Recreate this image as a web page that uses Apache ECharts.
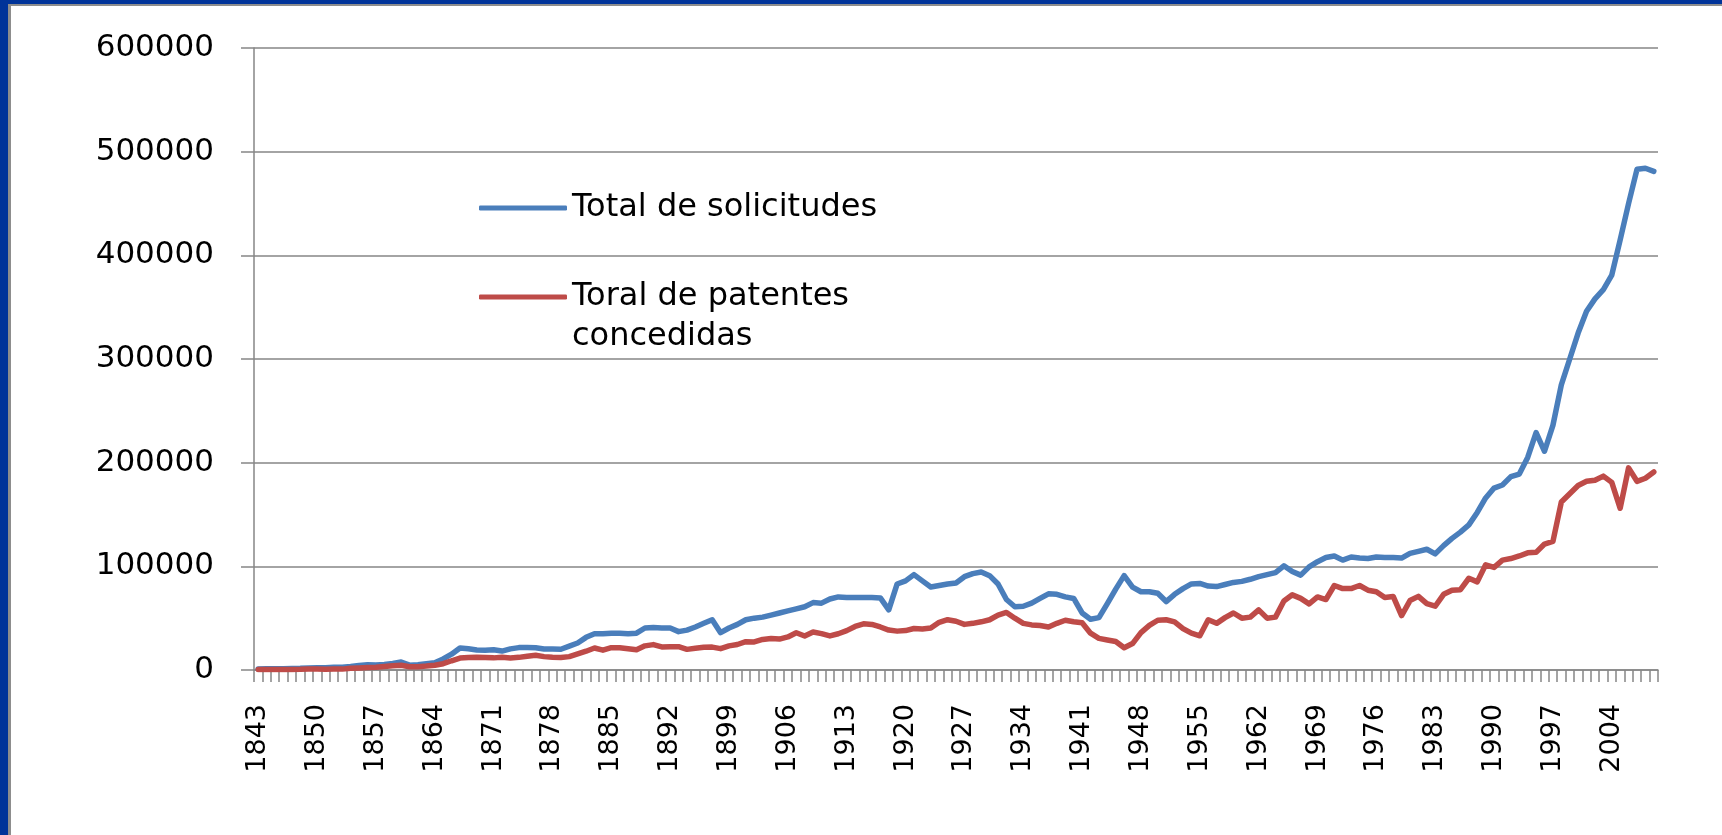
<!DOCTYPE html>
<html>
<head>
<meta charset="utf-8">
<title>Solicitudes y patentes concedidas</title>
<script src="https://cdn.jsdelivr.net/npm/echarts@6/dist/echarts.min.js"></script>
<style>
    html, body {
        margin: 0;
        padding: 0;
        width: 1722px;
        height: 835px;
        overflow: hidden;
        background: #003399;
    }
    #frame {
        position: absolute;
        left: 8px;
        top: 4px;
        width: 1714px;
        height: 831px;
        box-sizing: border-box;
        border-left: 3px solid #8d8d8d;
        border-top: 2px solid #8d8d8d;
        background: #fff;
    }
    #chart {
        width: 1711px;
        height: 829px;
    }
</style>
</head>
<body>
<div id="frame"><div id="chart"></div></div>
<script>
// años 1843 - 2009
var firstYear = 1843;
var lastYear = 2009;
var years = [];
for (var y = firstYear; y <= lastYear; y++) {
    years.push(String(y));
}

// Total de solicitudes
var solicitudes = [
    1000, 1100, 1250, 1300, 1550, 1650, 1950, 2200, 2250, 2650,      // 1843-1852
    2700, 3300, 4450, 4950, 4800, 5350, 6250, 7650, 4650, 5050,      // 1853-1862
    6000, 6950, 10650, 15250, 21250, 20450, 19250, 19150, 19450, 18250, // 1863-1872
    20400, 21600, 21650, 21400, 20300, 20250, 20050, 23000, 26050, 31500, // 1873-1882
    35000, 35000, 35500, 35500, 35000, 35500, 40500, 41000, 40500, 40500, // 1883-1892
    37000, 38500, 41500, 45000, 48500, 36000, 40500, 44000, 48500, 50000, // 1893-1902
    51000, 53000, 55000, 57000, 59000, 61000, 65000, 64500, 68500, 70500, // 1903-1912
    70000, 70000, 70000, 70000, 69500, 58000, 83000, 86000, 92000, 86000, // 1913-1922
    80000, 81500, 83000, 84000, 90000, 93000, 94500, 91000, 83000, 68000, // 1923-1932
    61000, 61500, 64500, 69000, 73500, 73000, 70500, 69000, 55000, 49000, // 1933-1942
    50500, 64000, 78000, 91000, 80000, 75500, 75500, 74000, 66000, 73000, // 1943-1952
    78500, 83000, 83500, 81000, 80500, 82500, 84500, 85500, 87500, 90000, // 1953-1962
    92000, 94000, 100500, 95000, 91500, 99500, 104500, 108500, 110000, 106000, // 1963-1972
    109000, 108000, 107500, 109000, 108500, 108500, 108000, 112500, 114500, 116500, // 1973-1982
    112000, 120000, 127000, 133000, 140000, 152000, 166000, 175500, 178500, 186500, // 1983-1992
    189000, 205000, 229000, 211000, 236000, 275000, 300000, 325000, 346000, 358000, // 1993-2002
    367000, 381000, 415000, 450000, 483000, 484000, 481000            // 2003-2009
];

// Toral de patentes concedidas
var concedidas = [
    500, 500, 500, 600, 550, 650, 1050, 900, 750, 900,                // 1843-1852
    850, 1750, 2000, 2300, 2700, 3400, 4200, 4600, 3200, 3200,        // 1853-1862
    3800, 4600, 6100, 8900, 11500, 12000, 12200, 12100, 11700, 12200, // 1863-1872
    11600, 12200, 13300, 14200, 12900, 12300, 12100, 12900, 15500, 18100, // 1873-1882
    21200, 19100, 21500, 21500, 20500, 19500, 23300, 24500, 22300, 22500, // 1883-1892
    22500, 19900, 20900, 22000, 22100, 20600, 23300, 24600, 27300, 27100, // 1893-1902
    29500, 30300, 29800, 31900, 35900, 32800, 36600, 35100, 32900, 35000, // 1903-1912
    38000, 42000, 44500, 44000, 41500, 38500, 37500, 38000, 40000, 39500, // 1913-1922
    40500, 46000, 48500, 47000, 44000, 45000, 46500, 48500, 53000, 55500, // 1923-1932
    50000, 45000, 43500, 43000, 41500, 45000, 48000, 46500, 45500, 35500, // 1933-1942
    30500, 29000, 27500, 21500, 25500, 36000, 43000, 48000, 48500, 46500, // 1943-1952
    40000, 35500, 33000, 48500, 45000, 50500, 55000, 50000, 51000, 58000, // 1953-1962
    50000, 51000, 66600, 72500, 69100, 63800, 70500, 68000, 81500, 78500, // 1963-1972
    78500, 81500, 77000, 75500, 70000, 71000, 52500, 67000, 71000, 64000, // 1973-1982
    61500, 73000, 77000, 77500, 88500, 85000, 101500, 99000, 106000, 107500, // 1983-1992
    110000, 113000, 113500, 121500, 124000, 162000, 170000, 178000, 182000, 183000, // 1993-2002
    187000, 181000, 156000, 195000, 182000, 185000, 191000            // 2003-2009
];

var yTicks = [0, 100000, 200000, 300000, 400000, 500000, 600000];

var nameSolicitudes = 'Total de solicitudes';
var nameConcedidas = 'Toral de patentes concedidas';

var axisGray = '#868686';
var baseFont = "'DejaVu Sans', Verdana, sans-serif";

function drawPatentChart(id) {
    var myChart = echarts.init(document.getElementById(id));
    var option = {
        animation: false,
        backgroundColor: '#fff',
        textStyle: {
            fontFamily: baseFont
        },
        color: ['#4A7EBB', '#BE4B48'],
        grid: {
            left: 243,
            top: 42,
            right: 64,
            bottom: 165,
            containLabel: false,
            outerBoundsMode: 'none'
        },
        // leyenda dentro del área del gráfico, una por serie
        legend: [{
            data: [nameSolicitudes],
            orient: 'vertical',
            left: 468,
            top: 184,
            padding: 0,
            icon: 'roundRect',
            itemWidth: 88,
            itemHeight: 5,
            selectedMode: false,
            textStyle: {
                color: '#000',
                fontSize: 32,
                lineHeight: 36,
                fontFamily: baseFont
            }
        }, {
            data: [nameConcedidas],
            orient: 'vertical',
            left: 468,
            top: 231,
            padding: 0,
            icon: 'roundRect',
            itemWidth: 88,
            itemHeight: 5,
            selectedMode: false,
            // línea vacía arriba para que el icono quede junto a la primera línea
            formatter: function(name) {
                return '\nToral de patentes\nconcedidas';
            },
            textStyle: {
                color: '#000',
                fontSize: 32,
                lineHeight: 40,
                fontFamily: baseFont
            }
        }],
        xAxis: {
            type: 'category',
            data: years,
            boundaryGap: true,
            axisLine: {
                lineStyle: {
                    color: axisGray,
                    width: 1.5
                }
            },
            axisTick: {
                show: true,
                interval: 0,
                length: 12,
                lineStyle: {
                    color: axisGray,
                    width: 1.5
                }
            },
            axisLabel: {
                interval: 6,
                rotate: 90,
                margin: 34,
                color: '#000',
                fontSize: 27,
                fontFamily: baseFont
            },
            splitLine: {
                show: false
            }
        },
        yAxis: {
            type: 'value',
            min: yTicks[0],
            max: yTicks[yTicks.length - 1],
            interval: yTicks[1] - yTicks[0],
            axisLine: {
                show: true,
                lineStyle: {
                    color: axisGray,
                    width: 1.5
                }
            },
            axisTick: {
                show: true,
                length: 13,
                lineStyle: {
                    color: axisGray,
                    width: 1.5
                }
            },
            axisLabel: {
                margin: 40,
                color: '#000',
                fontSize: 31,
                fontFamily: baseFont,
                // sin separador de miles
                formatter: function(value) {
                    return String(value);
                }
            },
            splitLine: {
                lineStyle: {
                    color: axisGray,
                    width: 1.5
                }
            }
        },
        series: [{
            name: nameSolicitudes,
            type: 'line',
            data: solicitudes,
            showSymbol: false,
            symbol: 'none',
            lineStyle: {
                width: 5.5,
                join: 'round',
                cap: 'round'
            }
        }, {
            name: nameConcedidas,
            type: 'line',
            data: concedidas,
            showSymbol: false,
            symbol: 'none',
            lineStyle: {
                width: 5.5,
                join: 'round',
                cap: 'round'
            }
        }]
    };
    myChart.setOption(option);
}

drawPatentChart('chart');
</script>
</body>
</html>
